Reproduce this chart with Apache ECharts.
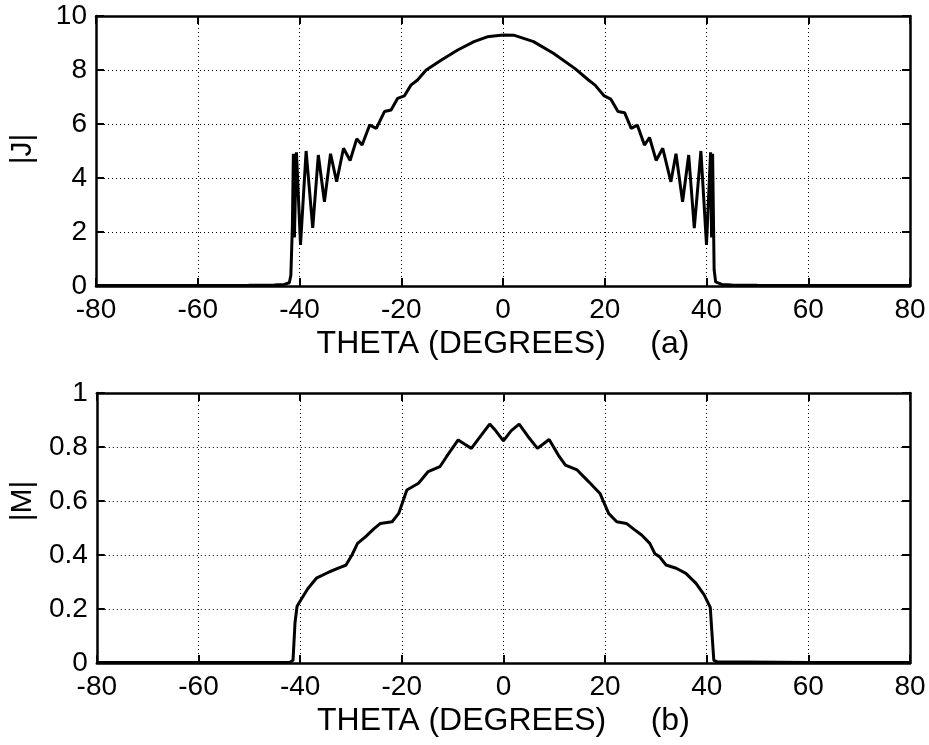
<!DOCTYPE html>
<html>
<head>
<meta charset="utf-8">
<script src="https://cdn.jsdelivr.net/npm/echarts@6/dist/echarts.min.js"></script>
<style>html,body{margin:0;padding:0;background:#fff;}#c{width:929px;height:745px;}</style>
</head>
<body>
<div id="c"></div>
<script>
// ---- data ----
var thetaJ = [-80, -60, -50, -45, -43, -42, -41.7, -41.4, -41.2, -41.0, -40.8, -40.6, -39.8, -38.7, -37.4, -36.3, -35.1, -33.9, -32.7, -31.35, -30.05, -28.75, -27.7, -26.2, -24.9, -23.3, -22.0, -20.7, -19.4, -18.1, -16.8, -15.1, -12.1, -8.9, -5.7, -3.1, 0, 2.1, 6.0, 9.9, 14.1, 16.8, 18.1, 19.9, 21.2, 22.6, 23.9, 25.2, 26.4, 27.8, 28.8, 30.1, 31.4, 33.0, 34.0, 35.3, 36.5, 37.6, 38.9, 40.0, 40.8, 41.0, 41.2, 41.5, 41.8, 43, 45, 50, 60, 80];
var valJ   = [0.02, 0.02, 0.03, 0.04, 0.06, 0.12, 0.4, 2.2, 4.9, 1.8, 3.5, 4.95, 1.52, 5.0, 2.15, 4.85, 3.12, 4.9, 3.86, 5.1, 4.65, 5.45, 5.22, 5.96, 5.84, 6.46, 6.52, 6.95, 7.04, 7.44, 7.63, 8.0, 8.37, 8.74, 9.05, 9.23, 9.30, 9.29, 9.05, 8.62, 8.06, 7.63, 7.44, 7.04, 6.92, 6.46, 6.42, 5.84, 5.96, 5.22, 5.5, 4.65, 5.1, 3.86, 4.9, 3.12, 4.85, 2.14, 5.0, 1.52, 4.95, 1.8, 4.9, 0.6, 0.15, 0.06, 0.04, 0.03, 0.02, 0.02];

var thetaM = [-80, -60, -42, -41.4, -41.0, -40.6, -39.8, -38.5, -36.8, -34.2, -32.0, -31.0, -29.8, -28.7, -27.1, -25.5, -24.2, -21.9, -20.6, -19.0, -16.7, -14.8, -12.5, -11.2, -8.9, -7.6, -6.3, -4.5, -2.7, -1.5, 0, 1.5, 3.1, 4.8, 6.7, 7.9, 9.0, 10.8, 12.2, 14.5, 16.8, 19.0, 20.7, 22.3, 24.2, 25.7, 27.2, 28.8, 29.8, 30.7, 32.0, 34.0, 35.9, 37.9, 39.5, 40.7, 41.0, 41.4, 42, 60, 80];
var valM   = [0.002, 0.002, 0.003, 0.01, 0.15, 0.21, 0.235, 0.275, 0.314, 0.338, 0.355, 0.362, 0.40, 0.443, 0.468, 0.497, 0.517, 0.523, 0.554, 0.641, 0.666, 0.709, 0.727, 0.764, 0.826, 0.81, 0.795, 0.84, 0.885, 0.86, 0.823, 0.86, 0.885, 0.84, 0.795, 0.812, 0.828, 0.77, 0.733, 0.715, 0.671, 0.628, 0.554, 0.523, 0.517, 0.495, 0.474, 0.443, 0.405, 0.394, 0.363, 0.351, 0.332, 0.295, 0.252, 0.206, 0.12, 0.01, 0.005, 0.002, 0.002];

var xTicks = [-80, -60, -40, -20, 0, 20, 40, 60, 80];
var xLabelA = 'THETA (DEGREES)     (a)';
var xLabelB = 'THETA (DEGREES)     (b)';
var yLabelA = '|J|';
var yLabelB = '|M|';

function pairs(xs, ys) { return xs.map(function (x, i) { return [x, ys[i]]; }); }

var FONT = 'Liberation Sans';
var gridDot = { show: true, lineStyle: { color: '#000', width: 1, type: [1, 3] } };
function xAx(gi, pos, name) {
  return {
    type: 'value', gridIndex: gi, position: pos, min: -80, max: 80, interval: 20,
    axisLine: { show: true, onZero: false, lineStyle: { color: '#000', width: 2.5 } },
    axisTick: { show: true, inside: true, length: 8, lineStyle: { color: '#000', width: 2 } },
    axisLabel: { show: pos === 'bottom', color: '#000', fontFamily: FONT, fontSize: 28, margin: 10 },
    splitLine: pos === 'bottom' ? gridDot : { show: false },
    name: name || '', nameLocation: 'middle', nameGap: 42,
    nameTextStyle: { color: '#000', fontFamily: FONT, fontSize: 32 }
  };
}
function yAx(gi, pos, max, interval, name, fmt, pad) {
  return {
    type: 'value', gridIndex: gi, position: pos, min: 0, max: max, interval: interval,
    axisLine: { show: true, onZero: false, lineStyle: { color: '#000', width: 2.5 } },
    axisTick: { show: true, inside: true, length: 8, lineStyle: { color: '#000', width: 2 } },
    axisLabel: { show: pos === 'left', color: '#000', fontFamily: FONT, fontSize: 28, margin: 9, formatter: fmt },
    splitLine: pos === 'left' ? gridDot : { show: false },
    name: name || '', nameLocation: 'middle', nameGap: 58,
    nameTextStyle: { color: '#000', fontFamily: FONT, fontSize: 30, padding: pad || 0 }
  };
}

var chart = echarts.init(document.getElementById('c'), null, { renderer: 'canvas' });
chart.setOption({
  backgroundColor: '#fff',
  animation: false,
  grid: [
    { left: 90, right: 19, top: 16, height: 270 },
    { left: 90, right: 19, top: 393, height: 270 }
  ],
  xAxis: [xAx(0, 'bottom', xLabelA), xAx(0, 'top'), xAx(1, 'bottom', xLabelB), xAx(1, 'top')],
  yAxis: [
    yAx(0, 'left', 10, 2, yLabelA, null, [0, 0, 0, 4]), yAx(0, 'right', 10, 2),
    yAx(1, 'left', 1, 0.2, yLabelB, function (v) { return v === 0 ? '0' : (v === 1 ? '1' : v.toFixed(1)); }, [0, 0, 0, 54]),
    yAx(1, 'right', 1, 0.2)
  ],
  series: [
    { type: 'line', xAxisIndex: 0, yAxisIndex: 0, data: pairs(thetaJ, valJ), showSymbol: false, lineStyle: { color: '#000', width: 3 }, z: 5 },
    { type: 'line', xAxisIndex: 2, yAxisIndex: 2, data: pairs(thetaM, valM), showSymbol: false, lineStyle: { color: '#000', width: 3 }, z: 5 }
  ]
});
</script>
</body>
</html>
